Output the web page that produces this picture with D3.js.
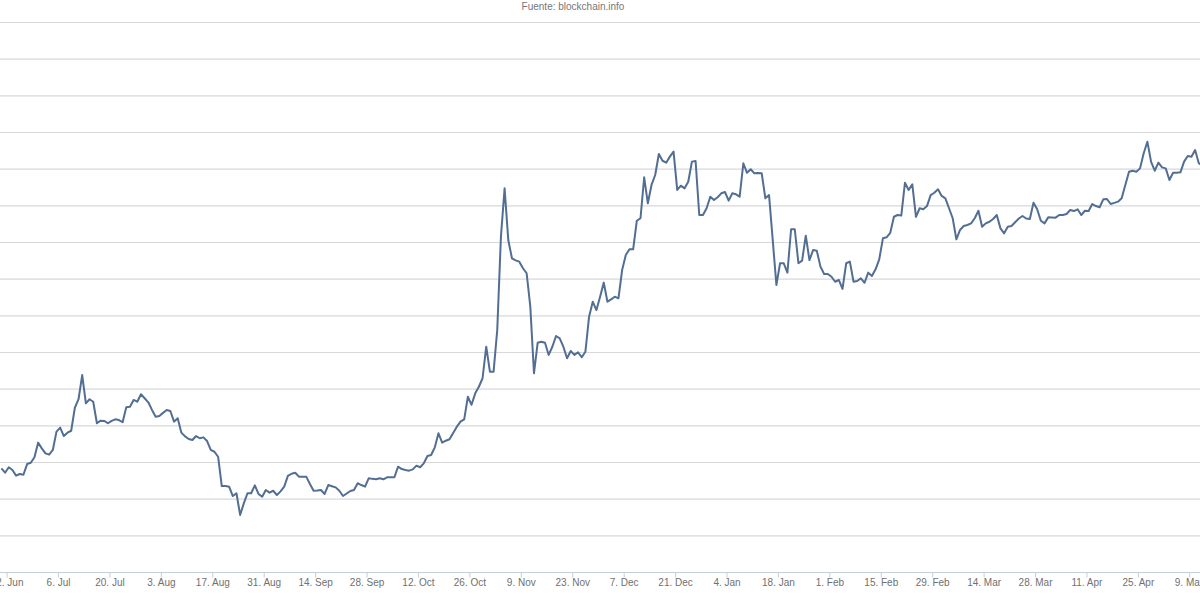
<!DOCTYPE html>
<html>
<head>
<meta charset="utf-8">
<script src="https://cdn.jsdelivr.net/npm/d3@7"></script>
<style>
  html, body { margin: 0; padding: 0; background: #fff; }
  svg { display: block; }
</style>
</head>
<body>
<svg id="chart" width="1200" height="600"></svg>
<script>
// ---- data (daily price, USD) ----
const startDate = "2015-06-20T14:00";
const prices = [
  245.7, 242.7, 246.4, 244.5, 240.7, 241.8, 241.3, 248.6, 249.5, 253.2,
  263.2, 259.3, 255.9, 255.0, 258.2, 270.7, 273.4, 267.7, 270.0, 271.3,
  287.0, 292.8, 309.3, 290.0, 292.8, 291.1, 276.4, 278.2, 278.0, 276.4,
  278.0, 279.1, 278.6, 277.1, 287.3, 287.7, 292.3, 291.1, 296.2, 293.5,
  290.7, 285.5, 280.9, 281.4, 283.5, 285.5, 284.8, 277.5, 279.8, 270.0,
  267.5, 265.7, 265.0, 267.7, 266.2, 266.8, 264.3, 258.2, 257.0, 253.6,
  233.6, 233.6, 233.2, 226.8, 228.7, 213.9, 221.8, 228.7, 228.7, 234.1,
  228.2, 226.3, 230.9, 229.1, 230.4, 227.5, 230.0, 233.2, 240.5, 242.0,
  242.7, 240.0, 240.0, 240.0, 235.0, 230.4, 230.5, 230.9, 228.2, 234.3,
  233.5, 232.7, 230.4, 226.8, 228.5, 230.2, 230.9, 235.5, 234.3, 233.2,
  238.9, 238.5, 238.2, 238.9, 238.2, 239.6, 239.6, 239.6, 246.8, 245.2,
  244.6, 244.1, 245.0, 247.5, 246.4, 249.1, 254.1, 254.8, 260.0, 269.6,
  263.2, 264.5, 265.5, 269.8, 274.1, 277.5, 279.1, 294.5, 289.0, 296.8,
  301.3, 307.1, 328.6, 311.6, 311.6, 340.0, 403.6, 436.6, 401.4, 388.9,
  387.5, 386.6, 382.1, 378.7, 355.9, 310.5, 331.3, 332.0, 331.3, 323.0,
  328.6, 335.9, 334.3, 328.6, 320.7, 325.7, 323.0, 324.8, 321.4, 325.2,
  349.1, 359.3, 353.6, 362.7, 372.3, 359.3, 360.9, 362.7, 361.6, 380.9,
  391.1, 395.0, 395.0, 414.5, 416.2, 444.1, 426.4, 438.9, 445.7, 460.0,
  455.4, 454.1, 458.2, 461.6, 435.5, 438.4, 436.6, 441.1, 454.8, 455.2,
  418.4, 418.4, 423.0, 430.9, 428.6, 430.5, 433.2, 434.1, 428.2, 433.2,
  432.5, 430.9, 453.7, 447.2, 449.6, 446.8, 447.0, 446.8, 429.8, 432.0,
  401.4, 370.7, 385.5, 385.5, 379.1, 408.7, 408.7, 385.5, 387.3, 404.3,
  387.7, 394.5, 394.0, 383.2, 378.2, 378.2, 376.3, 372.9, 374.1, 368.0,
  385.5, 386.6, 372.9, 373.4, 375.2, 372.2, 379.1, 376.8, 381.4, 388.2,
  402.5, 403.2, 406.3, 417.2, 418.4, 418.0, 440.4, 435.5, 439.3, 417.2,
  423.0, 422.3, 424.5, 432.0, 433.6, 435.9, 431.4, 429.8, 423.0, 416.2,
  401.8, 408.2, 410.9, 411.6, 412.7, 416.2, 421.3, 410.4, 412.7, 413.8,
  415.7, 418.4, 409.3, 405.9, 410.4, 410.9, 413.5, 416.0, 417.7, 416.0,
  415.7, 426.8, 422.3, 414.5, 412.7, 416.8, 416.7, 416.6, 418.4, 418.4,
  419.1, 421.8, 421.1, 422.3, 418.4, 421.3, 421.1, 425.9, 424.5, 423.7,
  429.1, 429.3, 425.9, 426.7, 427.5, 429.8, 438.9, 447.9, 448.6, 447.9,
  450.2, 460.5, 468.4, 454.8, 448.6, 454.1, 450.9, 450.2, 442.3, 447.2,
  447.2, 447.5, 454.8, 458.6, 458.2, 462.7, 453.7, 452.0
];
const xTickDates = [
  "2015-06-22", "2015-07-06", "2015-07-20", "2015-08-03", "2015-08-17", "2015-08-31",
  "2015-09-14", "2015-09-28", "2015-10-12", "2015-10-26", "2015-11-09", "2015-11-23",
  "2015-12-07", "2015-12-21", "2016-01-04", "2016-01-18", "2016-02-01", "2016-02-15",
  "2016-02-29", "2016-03-14", "2016-03-28", "2016-04-11", "2016-04-25", "2016-05-09"
];
const monthNames = ["Jan","Feb","Mar","Apr","May","Jun","Jul","Aug","Sep","Oct","Nov","Dec"];
const yTicks = [200, 225, 250, 275, 300, 325, 350, 375, 400, 425, 450, 475, 500, 525, 550];
const sourceText = "Fuente: blockchain.info";

// ---- build ----
const parse = d3.utcParse("%Y-%m-%d");
const t0 = d3.utcParse("%Y-%m-%dT%H:%M")(startDate);
const series = prices.map((v, i) => ({ date: d3.utcDay.offset(t0, i), value: v }));
const ticks = xTickDates.map(parse);

const plotLeft = 0, plotRight = 1200, plotTop = 22, plotBottom = 572;

const x = d3.scaleUtc()
  .domain([ticks[0], ticks[ticks.length - 1]])
  .range([6.6, 1189.3]);
const y = d3.scaleLinear().domain([175, 550]).range([plotBottom, plotTop]);

const svg = d3.select("#chart");
const fontFamily = "'Liberation Sans', Arial, sans-serif";

// gridlines
svg.append("g")
  .selectAll("line")
  .data(yTicks)
  .join("line")
  .attr("x1", plotLeft).attr("x2", plotRight)
  .attr("y1", d => y(d) + 0.5).attr("y2", d => y(d) + 0.5)
  .attr("stroke", "#d8d8d8")
  .attr("stroke-width", 1.2);

// x axis
const xAxis = d3.axisBottom(x)
  .tickValues(ticks)
  .tickSize(5)
  .tickPadding(1)
  .tickFormat(d => `${d.getUTCDate()}. ${monthNames[d.getUTCMonth()]}`);

const gx = svg.append("g")
  .attr("transform", `translate(0,${plotBottom + 0.5})`)
  .call(xAxis);
gx.select(".domain").remove();
gx.insert("line", ":first-child")
  .attr("x1", plotLeft).attr("x2", plotRight)
  .attr("y1", 0).attr("y2", 0)
  .attr("stroke", "#c8ccd4").attr("stroke-width", 1.2);
gx.selectAll(".tick line").attr("stroke", "#c8ccd4");
gx.selectAll(".tick text")
  .attr("fill", "#707070")
  .style("font-family", fontFamily)
  .style("font-size", "10px");

// clip
svg.append("clipPath").attr("id", "clip")
  .append("rect").attr("x", plotLeft).attr("y", 0)
  .attr("width", plotRight - plotLeft).attr("height", plotBottom);

// line
const line = d3.line()
  .x(d => x(d.date))
  .y(d => y(d.value));

svg.append("path")
  .datum(series)
  .attr("clip-path", "url(#clip)")
  .attr("fill", "none")
  .attr("stroke", "#526e93")
  .attr("stroke-width", 2)
  .attr("stroke-linejoin", "round")
  .attr("d", line);

// source text
svg.append("text")
  .attr("x", 573)
  .attr("y", 10)
  .attr("text-anchor", "middle")
  .attr("fill", "#777")
  .style("font-family", fontFamily)
  .style("font-size", "10px")
  .text(sourceText);
</script>
</body>
</html>
